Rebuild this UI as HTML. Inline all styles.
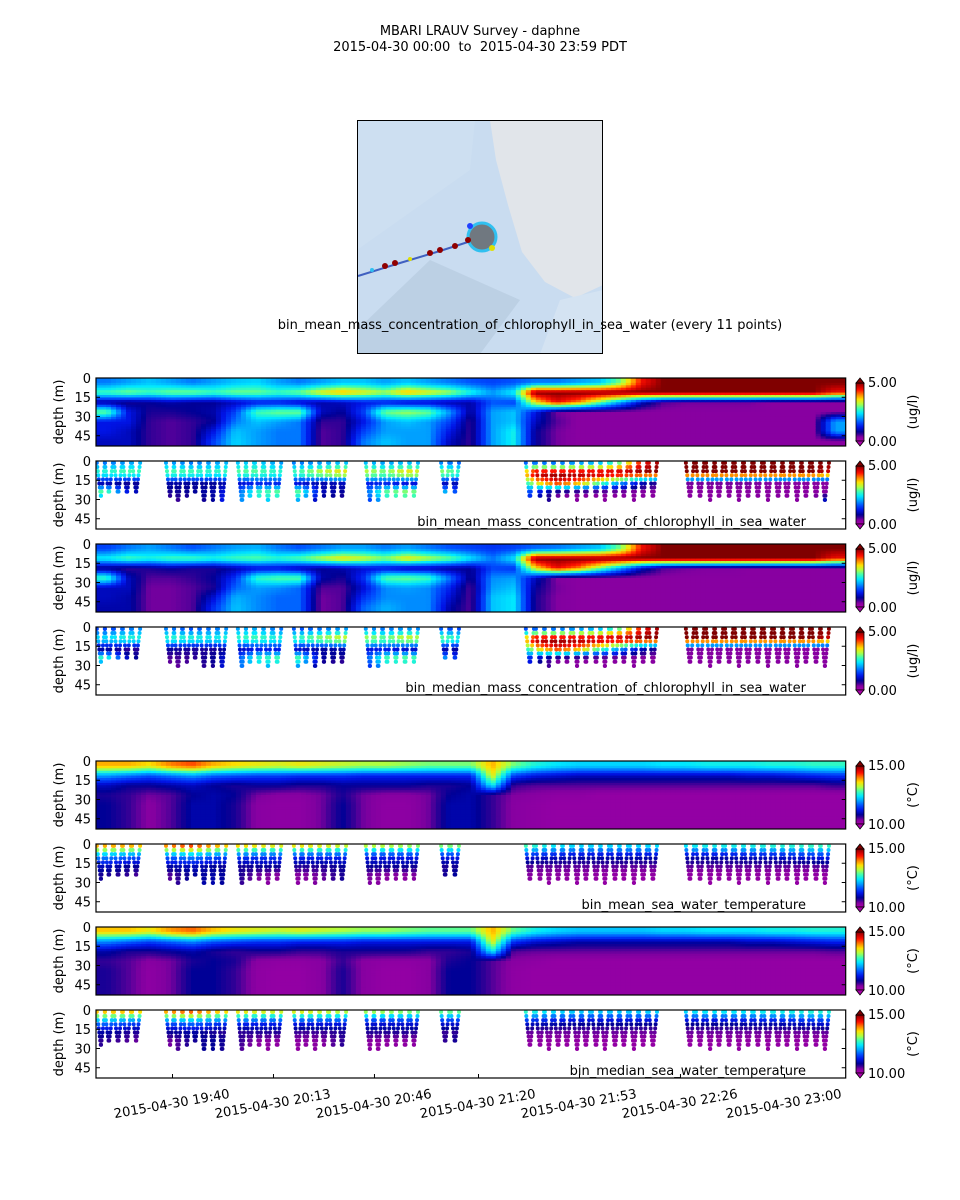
<!DOCTYPE html>
<html><head><meta charset="utf-8"><style>
html,body{margin:0;padding:0;background:#fff;}
svg{display:block;font-family:"DejaVu Sans","Liberation Sans",sans-serif;}
</style></head><body>
<svg id="chart" width="960" height="1200" viewBox="0 0 960 1200" xmlns="http://www.w3.org/2000/svg">
<defs>
<linearGradient id="cmapGrad" x1="0" y1="1" x2="0" y2="0"></linearGradient>
<clipPath id="mapClip"><rect x="357" y="120" width="246" height="234"/></clipPath>
</defs>
<text x="480" y="35" font-size="13" text-anchor="middle">MBARI LRAUV Survey - daphne</text>
<text x="480" y="51" font-size="13" text-anchor="middle" xml:space="preserve">2015-04-30 00:00  to  2015-04-30 23:59 PDT</text>
<g clip-path="url(#mapClip)">
<rect x="357" y="120" width="246" height="234" fill="#c9dcf0"/>
<path d="M357,250 L470,170 L475,120 L357,120 Z" fill="#cddff1"/>
<path d="M357,330 L430,260 L520,300 L480,354 L357,354 Z" fill="#b4c8dc" opacity="0.6"/>
<path d="M490,120 L603,120 L603,285 L575,298 L545,282 L522,252 L508,205 L496,160 Z" fill="#e1e5ea"/>
<path d="M560,300 L603,290 L603,354 L540,354 Z" fill="#d4e3f2"/>
<polyline points="358,276 400,263 440,251 468,242" fill="none" stroke="#4060c0" stroke-width="2"/>
<circle cx="482" cy="237" r="14" fill="#707880" stroke="#30c0f0" stroke-width="3"/>
<circle cx="385" cy="266" r="3" fill="#900000"/><circle cx="395" cy="263" r="3" fill="#900000"/>
<circle cx="430" cy="253" r="3" fill="#900000"/><circle cx="440" cy="250" r="3" fill="#900000"/>
<circle cx="455" cy="246" r="3" fill="#900000"/><circle cx="372" cy="270" r="2" fill="#30c0f0"/>
<circle cx="410" cy="259" r="2" fill="#e0e000"/><circle cx="470" cy="226" r="3" fill="#2040ff"/>
<circle cx="492" cy="248" r="3" fill="#e0e000"/><circle cx="468" cy="240" r="3" fill="#900000"/>
</g>
<rect x="357.5" y="120.5" width="245" height="233" fill="none" stroke="#000"/>
<text x="530" y="329" font-size="13" text-anchor="middle">bin_mean_mass_concentration_of_chlorophyll_in_sea_water (every 11 points)</text>
<g id="panels"></g>
<g id="xaxis"></g>
</svg>
<script>
// ---- data ----
const xTickLabels = ["2015-04-30 19:40","2015-04-30 20:13","2015-04-30 20:46","2015-04-30 21:20","2015-04-30 21:53","2015-04-30 22:26","2015-04-30 23:00"];
const xTickMinutes = [1180,1213,1246,1280,1313,1346,1380];
const yTickLabels = ["0","15","30","45"];
const yTickValues = [0,15,30,45];
// heatmap grids: 35 time columns (7 min each from 19:15), 7 depth rows (0-53 m)
const chlMeanR0=[1.8,2,2.2,2,1.8,2,2.2,2.3,2,1.8,2,2.2,2.2,2,2.2,2,1.8,1.6,1.5,1.6,1.8,1.8,2,2.2,3,4.5,5,5,5,5,5,5,5,5,5];
const chlMeanR1=[2.8,3,2.8,3,3,2.8,3,3,2.8,3,3.5,3.8,3.5,3.2,3.8,3.5,3.2,2.6,2,2.5,5,5,5,5,5,5,5,5,5,5,5,5,5,5,4.5];
const chlMeanR2=[0.8,0.7,0.8,0.9,0.8,0.8,1,1.2,1.2,1,0.9,1,1.2,1.2,1,1,0.9,0.9,1.6,1.5,3.5,4.5,4,3,2,1,0.5,0.4,0.4,0.4,0.4,0.3,0.3,0.3,0.3];
const chlMeanR3=[3,1.2,0.7,0.7,0.8,0.9,1.5,2.8,3,3,1,0.8,1.5,3,3.2,3,2,0.8,2,2.2,1.2,0.4,0.3,0.3,0.3,0.3,0.3,0.3,0.3,0.3,0.3,0.3,0.3,0.3,0.3];
const chlMeanR4=[1.2,1.2,0.6,0.5,0.6,0.8,1.8,2.2,2,1.8,0.6,0.6,1.2,2,2.2,2,1.5,0.6,2,2.2,1,0.5,0.3,0.3,0.3,0.3,0.3,0.3,0.3,0.3,0.3,0.3,0.3,0.3,2];
const chlMeanR5=[1.2,1,0.6,0.5,0.6,1.2,2.2,2,1.8,1.8,0.5,0.6,1.5,2,2,2,1.2,0.6,2,2.5,0.8,0.4,0.3,0.3,0.3,0.3,0.3,0.3,0.3,0.3,0.3,0.3,0.3,0.3,2];
const chlMeanR6=[1,1,0.6,0.5,0.6,1.5,2.3,2,1.8,1.8,0.5,0.6,1.8,2.2,2,2,1,0.6,2,2.5,0.8,0.4,0.3,0.3,0.3,0.3,0.3,0.3,0.3,0.3,0.3,0.3,0.3,0.3,0.3];
const chlMedR0=[1.5,1.8,2,1.8,1.6,1.8,2,2.1,1.8,1.6,1.8,2,2,1.8,2,1.8,1.6,1.5,1.4,1.5,1.7,1.8,2,2.2,3,4.5,5,5,5,5,5,5,5,5,5];
const chlMedR1=[2.5,2.8,2.6,2.8,2.8,2.6,2.8,2.9,2.7,2.9,3.3,3.6,3.4,3.1,3.6,3.3,3,2.4,1.8,2.4,5,5,5,5,5,5,5,5,5,5,5,5,5,5,4.5];
const chlMedR2=[0.7,0.6,0.7,0.8,0.7,0.7,0.9,1.1,1.1,0.9,0.8,0.9,1.1,1.1,0.9,0.9,0.8,0.8,1.5,1.4,3.5,4.5,4,3,2,1,0.5,0.4,0.35,0.35,0.3,0.3,0.3,0.3,0.3];
const chlMedR3=[2.8,1,0.5,0.5,0.6,0.8,1.4,2.7,2.9,2.9,0.9,0.7,1.4,2.9,3,2.8,1.8,0.7,1.9,2,1,0.35,0.3,0.3,0.3,0.3,0.3,0.3,0.3,0.3,0.3,0.3,0.3,0.3,0.3];
const chlMedR4=[1,1,0.4,0.4,0.5,0.7,1.7,2,1.9,1.7,0.5,0.5,1.1,1.9,2,1.9,1.3,0.5,2,2.2,0.8,0.4,0.3,0.3,0.3,0.3,0.3,0.3,0.3,0.3,0.3,0.3,0.3,0.3,0.3];
const chlMedR5=[1,0.9,0.4,0.4,0.5,1.1,2.1,1.9,1.7,1.7,0.4,0.5,1.4,1.9,1.9,1.9,1.1,0.5,2.2,2.4,0.7,0.35,0.3,0.3,0.3,0.3,0.3,0.3,0.3,0.3,0.3,0.3,0.3,0.3,0.3];
const chlMedR6=[0.9,0.9,0.4,0.4,0.5,1.4,2.2,1.9,1.7,1.7,0.4,0.5,1.7,2.1,1.9,1.9,0.9,0.5,2.2,2.4,0.7,0.35,0.3,0.3,0.3,0.3,0.3,0.3,0.3,0.3,0.3,0.3,0.3,0.3,0.3];
const tempMeanR0=[13.8,13.8,13.6,14,14.2,13.8,13.6,13.5,13.4,13.5,13.4,13.3,13.2,13.2,13.1,13,13,13,13.8,13,12.6,12.4,12.3,12.3,12.3,12.3,12.4,12.4,12.5,12.5,12.5,12.6,12.6,12.7,12.7];
const tempMeanR1=[12,11.8,11.6,11.8,12,11.7,11.6,11.5,11.5,11.4,11.4,11.4,11.3,11.3,11.3,11.3,11.3,11.3,13.5,11.5,11.2,11.1,11,11,11,11,11,11,11,11,11.1,11.1,11.2,11.3,11.4];
const tempMeanR2=[11,10.8,10.8,10.9,11,10.8,10.7,10.8,10.8,10.7,10.7,10.8,10.8,10.8,10.8,10.7,10.7,10.8,12.5,10.6,10.5,10.5,10.5,10.5,10.5,10.5,10.5,10.5,10.5,10.5,10.5,10.5,10.5,10.5,10.6];
const tempMeanR3=[10.7,10.6,10.4,10.5,10.8,10.9,10.8,10.4,10.3,10.3,10.4,10.7,10.4,10.3,10.3,10.4,10.8,10.9,10.6,10.35,10.3,10.25,10.25,10.2,10.2,10.2,10.2,10.2,10.2,10.2,10.2,10.2,10.2,10.2,10.2];
const tempMeanR4=[10.8,10.6,10.3,10.5,10.9,10.9,10.7,10.3,10.25,10.25,10.4,10.8,10.4,10.25,10.25,10.4,10.9,10.9,10.6,10.3,10.25,10.2,10.2,10.2,10.2,10.2,10.2,10.2,10.2,10.2,10.2,10.2,10.2,10.2,10.2];
const tempMeanR5=[10.8,10.6,10.3,10.5,10.9,10.9,10.7,10.3,10.25,10.25,10.4,10.8,10.4,10.25,10.25,10.4,10.9,10.9,10.6,10.3,10.25,10.2,10.2,10.2,10.2,10.2,10.2,10.2,10.2,10.2,10.2,10.2,10.2,10.2,10.2];
const tempMeanR6=[10.8,10.6,10.3,10.5,10.9,10.9,10.7,10.3,10.25,10.25,10.4,10.8,10.4,10.25,10.25,10.4,10.9,10.9,10.6,10.3,10.25,10.2,10.2,10.2,10.2,10.2,10.2,10.2,10.2,10.2,10.2,10.2,10.2,10.2,10.2];
const tempMedR0=[13.7,13.7,13.5,13.9,14.1,13.7,13.5,13.4,13.3,13.4,13.3,13.2,13.1,13.1,13,12.9,12.9,12.9,13.8,12.9,12.5,12.3,12.2,12.2,12.2,12.2,12.3,12.3,12.4,12.4,12.4,12.5,12.5,12.6,12.6];
const tempMedR1=[11.9,11.7,11.5,11.7,11.9,11.6,11.5,11.4,11.4,11.3,11.3,11.3,11.2,11.2,11.2,11.2,11.2,11.2,13.5,11.4,11.1,11,10.9,10.9,10.9,10.9,10.9,10.9,10.9,10.9,11,11,11.1,11.2,11.3];
const tempMedR2=[10.9,10.7,10.7,10.8,10.9,10.7,10.6,10.7,10.7,10.6,10.6,10.7,10.7,10.7,10.7,10.6,10.6,10.7,12.5,10.5,10.45,10.45,10.45,10.45,10.45,10.45,10.45,10.45,10.45,10.45,10.45,10.45,10.45,10.45,10.5];
const tempMedR3=[10.6,10.5,10.3,10.4,10.7,10.8,10.7,10.3,10.25,10.25,10.3,10.6,10.3,10.25,10.25,10.3,10.7,10.8,10.5,10.3,10.25,10.2,10.2,10.2,10.2,10.2,10.2,10.2,10.2,10.2,10.2,10.2,10.2,10.2,10.2];
const tempMedR4=[10.7,10.5,10.25,10.4,10.8,10.8,10.6,10.25,10.2,10.2,10.3,10.7,10.3,10.2,10.2,10.3,10.8,10.8,10.5,10.25,10.2,10.2,10.2,10.2,10.2,10.2,10.2,10.2,10.2,10.2,10.2,10.2,10.2,10.2,10.2];
const tempMedR5=[10.7,10.5,10.25,10.4,10.8,10.8,10.6,10.25,10.2,10.2,10.3,10.7,10.3,10.2,10.2,10.3,10.8,10.8,10.5,10.25,10.2,10.2,10.2,10.2,10.2,10.2,10.2,10.2,10.2,10.2,10.2,10.2,10.2,10.2,10.2];
const tempMedR6=[10.7,10.5,10.25,10.4,10.8,10.8,10.6,10.25,10.2,10.2,10.3,10.7,10.3,10.2,10.2,10.3,10.8,10.8,10.5,10.25,10.2,10.2,10.2,10.2,10.2,10.2,10.2,10.2,10.2,10.2,10.2,10.2,10.2,10.2,10.2];
// yo-yo dive bottoms (minutes since midnight) and maximum depths (m)
const diveTimes=[1156.6,1159.2,1162.2,1165.1,1168.1,1179.2,1181.8,1184.7,1187.4,1190.3,1193.2,1196.2,1202.7,1205.3,1208.3,1211.2,1214.2,1221.0,1223.6,1226.6,1229.5,1232.5,1235.4,1244.5,1247.2,1250.1,1253.0,1256.0,1258.9,1269.1,1272.3,1296.8,1300.1,1303.0,1306.0,1308.9,1312.2,1315.1,1318.4,1321.3,1324.6,1327.5,1330.8,1333.8,1337.0,1349.1,1352.4,1355.7,1358.6,1361.9,1365.1,1368.1,1371.3,1374.6,1377.9,1380.8,1384.1,1387.0,1390.3,1393.2];
const diveDepths=[28,26,27,26,25,28,33,28,26,33,31,33,33,30,30,32,30,32,30,32,28,30,29,31,33,30,28,30,28,26,26,30,30,31,30,30,31,30,30,31,30,30,31,30,30,30,30,31,30,30,31,30,30,31,30,30,31,30,30,31];

// ---- helpers ----
const NS="http://www.w3.org/2000/svg";
const T0=1155,T1=1400,X0=96,X1=845.7,PH=68,DMAX=53;
function xOf(t){return X0+(t-T0)*(X1-X0)/(T1-T0);}
function yOf(d,top){return top+d*PH/DMAX;}
const cmapStops=[[0,[170,0,170]],[0.07,[130,0,160]],[0.12,[50,0,150]],[0.16,[0,0,150]],[0.24,[0,20,230]],[0.32,[0,80,255]],[0.4,[0,160,255]],[0.48,[0,232,255]],[0.56,[64,255,176]],[0.64,[176,255,64]],[0.72,[255,224,0]],[0.8,[255,128,0]],[0.88,[255,16,0]],[0.95,[192,0,0]],[1,[128,0,0]]];
function cmap(f){f=Math.max(0,Math.min(1,f));for(let i=1;i<cmapStops.length;i++){if(f<=cmapStops[i][0]){const a=cmapStops[i-1],b=cmapStops[i];const u=(f-a[0])/(b[0]-a[0]);const c=a[1].map((v,k)=>Math.round(v+(b[1][k]-v)*u));return `rgb(${c[0]},${c[1]},${c[2]})`;}}return "rgb(128,0,0)";}
const grad=document.getElementById('cmapGrad');
cmapStops.forEach(s=>{const st=document.createElementNS(NS,'stop');st.setAttribute('offset',s[0]);st.setAttribute('stop-color',`rgb(${s[1].join(',')})`);grad.appendChild(st);});
function sample(grid,t,d){const nc=grid[0].length,nr=grid.length;let cx=(t-T0)/((T1-T0)/nc)-0.5,cy=d/(DMAX/nr)-0.5;cx=Math.max(0,Math.min(nc-1,cx));cy=Math.max(0,Math.min(nr-1,cy));const i0=Math.floor(cx),j0=Math.floor(cy),i1=Math.min(nc-1,i0+1),j1=Math.min(nr-1,j0+1),fx=cx-i0,fy=cy-j0;const a=grid[j0][i0]*(1-fx)+grid[j0][i1]*fx,b=grid[j1][i0]*(1-fx)+grid[j1][i1]*fx;return a*(1-fy)+b*fy;}
function el(tag,attrs,parent){const e=document.createElementNS(NS,tag);for(const k in attrs)e.setAttribute(k,attrs[k]);parent.appendChild(e);return e;}

const chlMean=[chlMeanR0,chlMeanR1,chlMeanR2,chlMeanR3,chlMeanR4,chlMeanR5,chlMeanR6];
const chlMed=[chlMedR0,chlMedR1,chlMedR2,chlMedR3,chlMedR4,chlMedR5,chlMedR6];
const tempMean=[tempMeanR0,tempMeanR1,tempMeanR2,tempMeanR3,tempMeanR4,tempMeanR5,tempMeanR6];
const tempMed=[tempMedR0,tempMedR1,tempMedR2,tempMedR3,tempMedR4,tempMedR5,tempMedR6];
const panelsDef=[
 {top:378,grid:chlMean,kind:'heat',vmin:0,vmax:5,unit:'(ug/l)',hi:'5.00',lo:'0.00',name:'chl-mean-section'},
 {top:461,grid:chlMean,kind:'scatter',vmin:0,vmax:5,unit:'(ug/l)',hi:'5.00',lo:'0.00',name:'chl-mean-profiles',cap:'bin_mean_mass_concentration_of_chlorophyll_in_sea_water'},
 {top:544,grid:chlMed,kind:'heat',vmin:0,vmax:5,unit:'(ug/l)',hi:'5.00',lo:'0.00',name:'chl-median-section'},
 {top:627,grid:chlMed,kind:'scatter',vmin:0,vmax:5,unit:'(ug/l)',hi:'5.00',lo:'0.00',name:'chl-median-profiles',cap:'bin_median_mass_concentration_of_chlorophyll_in_sea_water'},
 {top:761,grid:tempMean,kind:'heat',vmin:10,vmax:15,unit:'(°C)',hi:'15.00',lo:'10.00',name:'temp-mean-section'},
 {top:844,grid:tempMean,kind:'scatter',vmin:10,vmax:15,unit:'(°C)',hi:'15.00',lo:'10.00',name:'temp-mean-profiles',cap:'bin_mean_sea_water_temperature'},
 {top:927,grid:tempMed,kind:'heat',vmin:10,vmax:15,unit:'(°C)',hi:'15.00',lo:'10.00',name:'temp-median-section'},
 {top:1010,grid:tempMed,kind:'scatter',vmin:10,vmax:15,unit:'(°C)',hi:'15.00',lo:'10.00',name:'temp-median-profiles',cap:'bin_median_sea_water_temperature'}
];
const root=document.getElementById('panels');
panelsDef.forEach(p=>{
 const g=el('g',{},root);
 
 
 const norm=v=>(v-p.vmin)/(p.vmax-p.vmin);
 const cp=el('clipPath',{id:'clip'+p.top},g);el('rect',{x:X0,y:p.top,width:X1-X0,height:PH},cp);
 const plot=el('g',{'clip-path':'url(#clip'+p.top+')'},g);
 if(p.kind==='heat'){
  const nx=150,ny=28,dt=(T1-T0)/nx,dd=DMAX/ny;
  for(let i=0;i<nx;i++)for(let j=0;j<ny;j++){
   const t=T0+(i+0.5)*dt,d=(j+0.5)*dd;
   const r=el('rect',{x:xOf(T0+i*dt).toFixed(2),y:yOf(j*dd,p.top).toFixed(2),width:((X1-X0)/nx+0.6).toFixed(2),height:(PH/ny+0.6).toFixed(2),fill:cmap(norm(sample(p.grid,t,d)))},plot);
   
   
  }
 } else {
  diveTimes.forEach((tb,k)=>{
   const D=diveDepths[k],half=1.4;
   for(let d=1.5;d<=D;d+=3.2){
    [tb-half*(1-d/D),tb+half*(1-d/D)].forEach(t=>{
     const c=el('circle',{cx:xOf(t).toFixed(2),cy:yOf(d,p.top).toFixed(2),r:2,fill:cmap(norm(sample(p.grid,t,d+2)))},plot);
     
     
    });
   }
  });
  const cap=el('text',{x:806,y:p.top+65,'font-size':13,'text-anchor':'end'},g);
  cap.textContent=p.cap;
  
  
 }
 const fr=el('rect',{x:X0,y:p.top,width:X1-X0,height:PH,fill:'none',stroke:'#000','stroke-width':1.2},g);
 
 
 yTickValues.forEach((v,i)=>{
  const y=yOf(v,p.top);
  el('line',{x1:X0,x2:X0+4,y1:y,y2:y,stroke:'#000'},g);
  el('line',{x1:X1-4,x2:X1,y1:y,y2:y,stroke:'#000'},g);
  const tx=el('text',{x:91,y:y+5,'font-size':13,'text-anchor':'end'},g);
  tx.textContent=yTickLabels[i];
  
  
 });
 const yl=el('text',{x:0,y:0,'font-size':13,'text-anchor':'middle',transform:`translate(63,${p.top+PH/2}) rotate(-90)`},g);
 yl.textContent='depth (m)';
 
 
 const cb=el('g',{},g);
 
 
 const ct=p.top+5,cbh=PH-10;
 el('rect',{x:856,y:ct,width:8,height:cbh,fill:'url(#cmapGrad)',stroke:'#000','stroke-width':0.8},cb);
 el('path',{d:`M856,${ct} L860,${ct-5} L864,${ct} Z`,fill:cmap(1),stroke:'#000','stroke-width':0.8},cb);
 el('path',{d:`M856,${ct+cbh} L860,${ct+cbh+5} L864,${ct+cbh} Z`,fill:cmap(0),stroke:'#000','stroke-width':0.8},cb);
 const h=el('text',{x:868,y:ct+4,'font-size':13},cb);h.textContent=p.hi;
 const l=el('text',{x:868,y:ct+cbh+5,'font-size':13},cb);l.textContent=p.lo;
 const u=el('text',{x:0,y:0,'font-size':13,'text-anchor':'middle',transform:`translate(917,${p.top+PH/2}) rotate(-90)`},cb);u.textContent=p.unit;
 
 
});
const xa=document.getElementById('xaxis');


xTickMinutes.forEach((m,i)=>{
 const x=xOf(m);
 el('line',{x1:x,x2:x,y1:1078,y2:1074,stroke:'#000'},xa);
 const t=el('text',{x:0,y:0,'font-size':13,'text-anchor':'middle',transform:`translate(${x},${1108}) rotate(-10)`},xa);
 t.textContent=xTickLabels[i];
 
 
});
</script>
</body></html>
